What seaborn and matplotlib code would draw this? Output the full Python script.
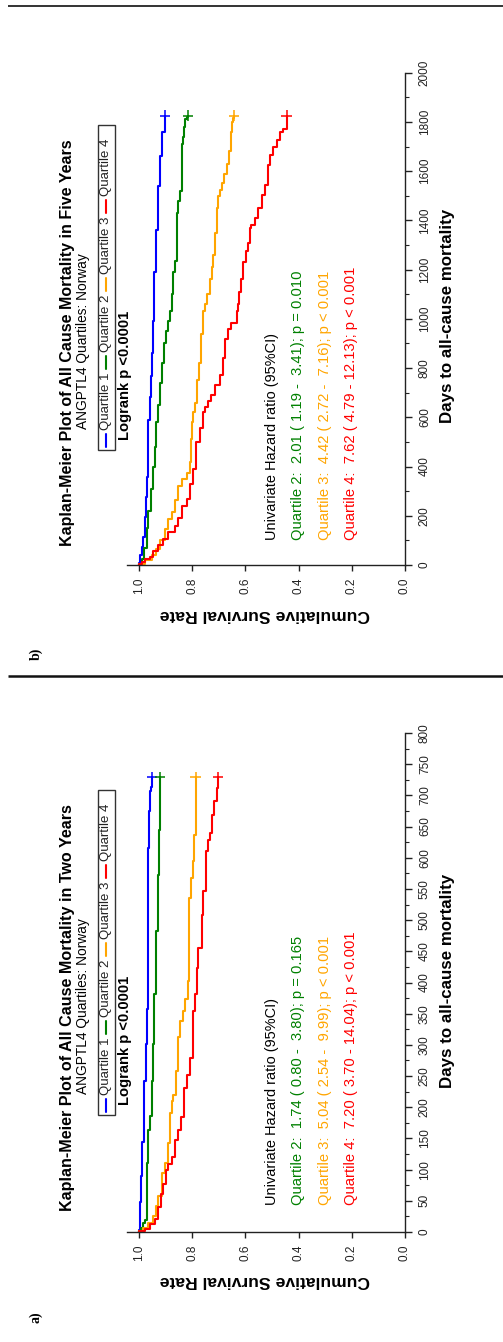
import numpy as np
import pandas as pd
import matplotlib
matplotlib.use("Agg")
import matplotlib.pyplot as plt
import seaborn as sns
from matplotlib.patches import Rectangle

W, H = 503, 1342

# ---------------- data ----------------
quartiles = ["Quartile 1", "Quartile 2", "Quartile 3", "Quartile 4"]
colors = ["#0000FF", "#008000", "#FFA500", "#FF0000"]

# Panel b (five years)
b_q1_day = [0, 10, 40, 75, 114, 196, 277, 359, 467, 589, 684, 766, 861, 990, 1065, 1192, 1362, 1538, 1660, 1761, 1826]
b_q1_surv = [1.0, 0.996, 0.990, 0.984, 0.977, 0.975, 0.971, 0.967, 0.965, 0.959, 0.955, 0.952, 0.946, 0.944, 0.942, 0.936, 0.930, 0.921, 0.915, 0.902, 0.902]
b_q2_day = [0, 5, 25, 70, 150, 220, 310, 400, 480, 580, 650, 740, 820, 900, 950, 990, 1030, 1100, 1190, 1235, 1430, 1480, 1520, 1710, 1740, 1780, 1810, 1822, 1826]
b_q2_surv = [1.0, 0.990, 0.980, 0.971, 0.965, 0.955, 0.946, 0.940, 0.934, 0.927, 0.921, 0.912, 0.905, 0.900, 0.892, 0.883, 0.877, 0.871, 0.865, 0.858, 0.852, 0.846, 0.840, 0.833, 0.830, 0.827, 0.821, 0.815, 0.815]
b_q3_day = [0, 5, 20, 40, 65, 100, 145, 185, 215, 265, 320, 350, 375, 420, 510, 580, 620, 660, 750, 820, 940, 1030, 1060, 1100, 1160, 1210, 1260, 1350, 1450, 1500, 1525, 1550, 1590, 1630, 1680, 1760, 1800, 1815, 1826]
b_q3_surv = [1.0, 0.977, 0.952, 0.934, 0.921, 0.902, 0.890, 0.877, 0.865, 0.852, 0.837, 0.821, 0.808, 0.805, 0.802, 0.796, 0.789, 0.783, 0.774, 0.767, 0.758, 0.752, 0.746, 0.733, 0.727, 0.721, 0.714, 0.708, 0.702, 0.695, 0.687, 0.679, 0.670, 0.662, 0.654, 0.649, 0.645, 0.642, 0.642]
b_q4_day = [0, 6, 14, 24, 34, 55, 80, 105, 135, 160, 190, 240, 270, 330, 390, 500, 555, 620, 640, 665, 690, 730, 770, 840, 920, 960, 985, 1030, 1060, 1110, 1160, 1230, 1275, 1310, 1370, 1380, 1410, 1450, 1505, 1545, 1625, 1665, 1700, 1725, 1760, 1772, 1826]
b_q4_surv = [1.0, 0.990, 0.977, 0.960, 0.946, 0.927, 0.909, 0.890, 0.865, 0.852, 0.840, 0.821, 0.808, 0.796, 0.787, 0.771, 0.758, 0.752, 0.739, 0.729, 0.714, 0.695, 0.683, 0.677, 0.664, 0.654, 0.633, 0.627, 0.624, 0.617, 0.608, 0.599, 0.591, 0.583, 0.579, 0.564, 0.551, 0.539, 0.526, 0.514, 0.508, 0.495, 0.482, 0.470, 0.457, 0.445, 0.445]

# Panel a (two years)
a_q1_day = [0, 3, 48, 90, 145, 242, 301, 357, 616, 675, 707, 714, 730]
a_q1_surv = [1.0, 0.996, 0.992, 0.987, 0.980, 0.975, 0.971, 0.967, 0.962, 0.959, 0.955, 0.952, 0.952]
a_q2_day = [0, 2, 7, 15, 20, 111, 164, 186, 242, 301, 381, 461, 482, 573, 645, 730]
a_q2_surv = [1.0, 0.992, 0.984, 0.977, 0.971, 0.965, 0.959, 0.952, 0.946, 0.942, 0.937, 0.934, 0.930, 0.925, 0.921, 0.921]
a_q3_day = [0, 2, 7, 15, 26, 42, 58, 95, 111, 143, 191, 210, 220, 258, 312, 338, 354, 373, 402, 536, 568, 594, 637, 730]
a_q3_surv = [1.0, 0.984, 0.965, 0.946, 0.937, 0.927, 0.915, 0.902, 0.892, 0.883, 0.877, 0.871, 0.862, 0.852, 0.846, 0.833, 0.827, 0.817, 0.811, 0.805, 0.798, 0.792, 0.787, 0.787]
a_q4_day = [0, 1, 5, 13, 21, 40, 61, 77, 99, 109, 120, 147, 163, 185, 231, 252, 279, 354, 381, 424, 456, 509, 547, 611, 629, 640, 669, 691, 712, 730]
a_q4_surv = [1.0, 0.977, 0.959, 0.940, 0.927, 0.917, 0.909, 0.900, 0.890, 0.877, 0.865, 0.852, 0.842, 0.830, 0.821, 0.808, 0.796, 0.789, 0.783, 0.777, 0.764, 0.760, 0.749, 0.742, 0.733, 0.724, 0.717, 0.708, 0.704, 0.704]

surv_ticks = [0.0, 0.2, 0.4, 0.6, 0.8, 1.0]
b_day_ticks = [0, 200, 400, 600, 800, 1000, 1200, 1400, 1600, 1800, 2000]
a_day_ticks = [0, 50, 100, 150, 200, 250, 300, 350, 400, 450, 500, 550, 600, 650, 700, 750, 800]

b_title = "Kaplan-Meier Plot of All Cause Mortality in Five Years"
a_title = "Kaplan-Meier Plot of All Cause Mortality in Two Years"
subtitle = "ANGPTL4 Quartiles: Norway"
logrank = "Logrank p <0.0001"
hr_head = "Univariate Hazard ratio (95%CI)"
b_hr = ["Quartile 2:  2.01 ( 1.19 -  3.41); p = 0.010",
        "Quartile 3:  4.42 ( 2.72 -  7.16); p < 0.001",
        "Quartile 4:  7.62 ( 4.79 - 12.13); p < 0.001"]
a_hr = ["Quartile 2:  1.74 ( 0.80 -  3.80); p = 0.165",
        "Quartile 3:  5.04 ( 2.54 -  9.99); p < 0.001",
        "Quartile 4:  7.20 ( 3.70 - 14.04); p < 0.001"]
xlabel = "Days to all-cause mortality"
ylabel = "Cumulative Survival Rate"

# ---------------- style ----------------
sns.set_theme(style="white")
plt.rcParams['font.family'] = ['Liberation Sans', 'DejaVu Sans']

fig = plt.figure(figsize=(W / 100, H / 100), dpi=100)
fig.patch.set_facecolor("white")
palette = dict(zip(quartiles, colors))
renderer = fig.canvas.get_renderer()


def fit(t, target):
    fs = t.get_fontsize()
    bb = t.get_window_extent(renderer)
    length = max(bb.width, bb.height)
    t.set_fontsize(fs * target / length)
    return t.get_fontsize()


def px_axes(left, top, right, bottom):
    return fig.add_axes([left / W, 1 - bottom / H, (right - left) / W, (bottom - top) / H])


def km_panel(top, bottom, days_list, surv_list, day_ticks, minor_step):
    ax = px_axes(126.7, top, 405, bottom)
    frames = []
    for q, d, s in zip(quartiles, days_list, surv_list):
        frames.append(pd.DataFrame({"day": d, "surv": s, "group": q}))
    df = pd.concat(frames, ignore_index=True)
    sns.lineplot(data=df, x="surv", y="day", hue="group", palette=palette,
                 sort=False, estimator=None, drawstyle="steps-pre",
                 legend=False, linewidth=1.5, ax=ax)
    ends = df.groupby("group", sort=False).tail(1)
    sns.scatterplot(data=ends, x="surv", y="day", hue="group", palette=palette,
                    marker="+", s=55, linewidth=1.1, legend=False, ax=ax)
    ax.set_xlim(1.046, 0)
    ax.set_ylim(0, day_ticks[-1])
    ax.set_xlabel("")
    ax.set_ylabel("")
    for sp in ["left", "top"]:
        ax.spines[sp].set_visible(False)
    for sp in ["right", "bottom"]:
        ax.spines[sp].set_color("#222222")
        ax.spines[sp].set_linewidth(1.0)
    ax.yaxis.tick_right()
    ax.set_xticks(surv_ticks)
    ax.set_xticklabels([f"{v:.1f}" for v in surv_ticks], rotation=90, fontsize=8.5, color="#222222")
    ax.set_yticks(day_ticks)
    ax.set_yticklabels([str(v) for v in day_ticks], rotation=90, va="center", fontsize=8.5, color="#222222")
    ax.set_yticks(np.arange(0, day_ticks[-1] + 1, minor_step), minor=True)
    ax.tick_params(axis="x", which="both", bottom=True, direction="out", length=4, width=1, color="#222222", pad=5)
    ax.tick_params(axis="y", which="major", right=True, left=False, direction="out", length=5, width=1, color="#222222", pad=5)
    ax.tick_params(axis="y", which="minor", right=True, left=False, direction="out", length=3, width=0.8, color="#222222")
    ax.set_facecolor("none")
    return ax


ax_b = km_panel(72.7, 565, [b_q1_day, b_q2_day, b_q3_day, b_q4_day],
                [b_q1_surv, b_q2_surv, b_q3_surv, b_q4_surv], b_day_ticks, 100)
ax_a = km_panel(733, 1232, [a_q1_day, a_q2_day, a_q3_day, a_q4_day],
                [a_q1_surv, a_q2_surv, a_q3_surv, a_q4_surv], a_day_ticks, 25)

# overlay in pixel coordinates for annotations
ov = fig.add_axes([0, 0, 1, 1])
ov.set_xlim(0, W)
ov.set_ylim(H, 0)
ov.axis("off")

ov.plot([8, W], [6, 6], color="#111111", lw=1.2, solid_capstyle="butt")
ov.plot([8, W], [676, 676], color="#111111", lw=1.8, solid_capstyle="butt")

rot = dict(rotation=90, rotation_mode="anchor", ha="left", va="center")


def annotate(dy, title, hr_lines, label):
    t = ov.text(68, 343 + dy, title, rotation=90, ha="center", va="center",
                fontsize=10.5, fontweight="bold", color="black")
    fit(t, 409)
    t = ov.text(83.5, 341 + dy, subtitle, rotation=90, ha="center", va="center",
                fontsize=10, color="black")
    fit(t, 177)
    ov.add_patch(Rectangle((98, 125 + dy), 17, 325, fill=False, edgecolor="#333333", lw=1))
    for i, (q, c) in enumerate(zip(quartiles, colors)):
        y0 = 447 + dy - i * 78
        ov.plot([106.5, 106.5], [y0, y0 - 13], color=c, lw=1.5)
        ov.text(106.5, y0 - 17, q, fontsize=9.5, color="#222222", **rot)
    t = ov.text(125, 440 + dy, logrank, fontsize=10.5, fontweight="bold", color="black", **rot)
    fit(t, 130)
    t = ov.text(272.5, 540 + dy, hr_head, fontsize=10.3, color="black", **rot)
    fit(t, 207)
    hr_texts = []
    for xx, s, c in zip([298.5, 325, 351.5], hr_lines, colors[1:]):
        hr_texts.append(ov.text(xx, 540 + dy, s, fontsize=10.3, color=c, **rot))
    fs = fit(hr_texts[2], 271)
    for tt in hr_texts:
        tt.set_fontsize(fs)
    t = ov.text(448, 316 + dy, xlabel, rotation=90, ha="center", va="center",
                fontsize=10.5, fontweight="bold", color="black")
    fit(t, 215)
    t = ov.text(265, 615 + dy, ylabel, rotation=180, ha="center", va="center",
                fontsize=10.5, fontweight="bold", color="black")
    fit(t, 210)
    ov.text(36, 654 + dy * 0.997, label, rotation=90, ha="center", va="center",
            fontsize=10, fontweight="bold", color="black", family=["Liberation Serif", "DejaVu Serif"])


annotate(0, b_title, b_hr, "b)")
annotate(665, a_title, a_hr, "a)")

fig.savefig("out.png", dpi=100, facecolor="white")
